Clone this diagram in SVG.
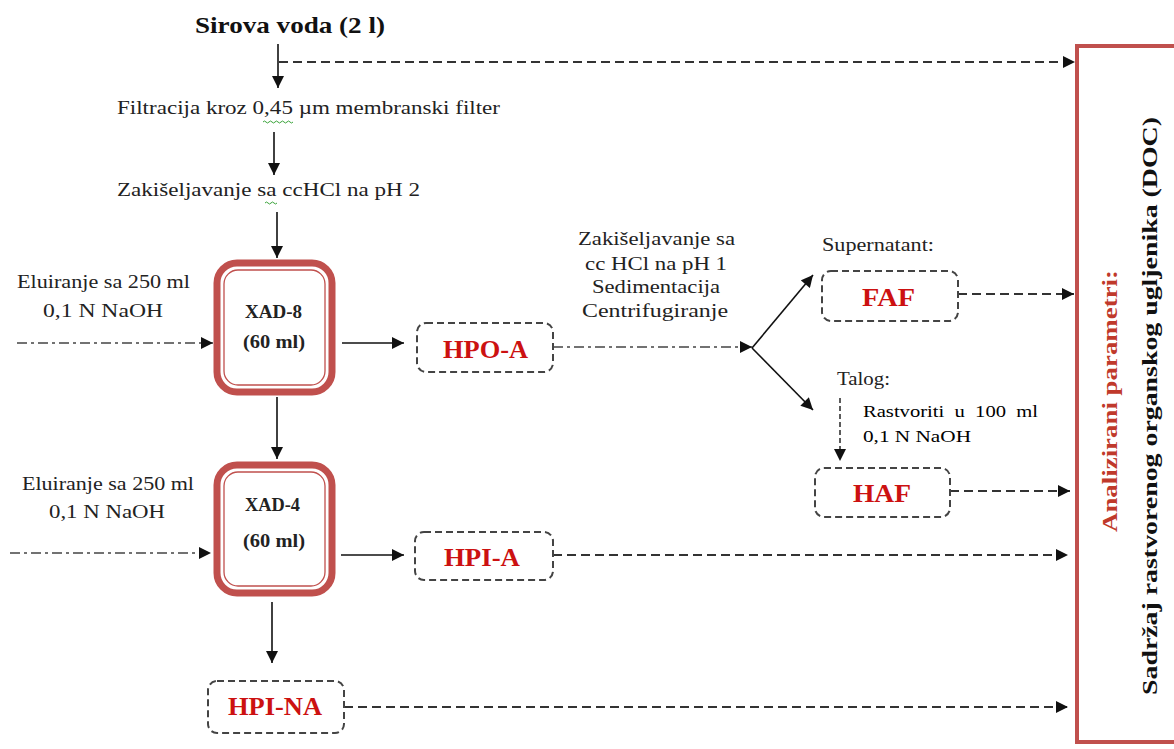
<svg xmlns="http://www.w3.org/2000/svg" width="1174" height="749" viewBox="0 0 1174 749">
  <defs>
    <marker id="arrBig" viewBox="0 0 10 10" refX="10" refY="5" markerWidth="13" markerHeight="12" markerUnits="userSpaceOnUse" orient="auto">
      <path d="M0,0 L10,5 L0,10 Z" fill="#111"/>
    </marker>
  </defs>
  <style>
    text { font-family: "Liberation Serif", "Times New Roman", serif; fill: #222; }
    .reg { font-size: 18px; }
    .title { font-size: 24px; font-weight: bold; fill: #111; }
    .col { font-size: 19px; font-weight: bold; fill: #222; }
    .frac { font-size: 25px; font-weight: bold; fill: #cc1111; }
    .solid { stroke: #111; stroke-width: 1.6; fill: none; }
    .dash { stroke: #333; stroke-width: 1.8; fill: none; stroke-dasharray: 9 5; }
    .dd { stroke: #444; stroke-width: 1.6; fill: none; stroke-dasharray: 10 4 3 4; }
    .sdash { stroke: #333; stroke-width: 1.6; fill: none; stroke-dasharray: 5 3; }
    .box { stroke: #444; stroke-width: 2; fill: #fff; stroke-dasharray: 7 4; }
    .colOuter { stroke: #c0504d; stroke-width: 7; fill: #fff; }
    .colInner { stroke: #c0504d; stroke-width: 1.3; fill: none; }
    .wavy { stroke: #3aa33a; stroke-width: 1; fill: none; }
  </style>

  <g id="connectors">
    <!-- main vertical flow -->
    <line class="solid" x1="278" y1="44" x2="278" y2="88" marker-end="url(#arrBig)"/>
    <line class="dash" x1="279" y1="62" x2="1075" y2="62" marker-end="url(#arrBig)"/>
    <line class="solid" x1="274" y1="132" x2="274" y2="175" marker-end="url(#arrBig)"/>
    <line class="solid" x1="277" y1="212" x2="277" y2="258" marker-end="url(#arrBig)"/>
    <line class="solid" x1="277" y1="397" x2="277" y2="459" marker-end="url(#arrBig)"/>
    <line class="solid" x1="272" y1="602" x2="272" y2="663" marker-end="url(#arrBig)"/>
    <!-- elution inputs -->
    <line class="dd" x1="17" y1="343" x2="213" y2="343" marker-end="url(#arrBig)"/>
    <line class="dd" x1="10" y1="553" x2="211" y2="553" marker-end="url(#arrBig)"/>
    <!-- column outputs -->
    <line class="solid" x1="342" y1="343" x2="404" y2="343" marker-end="url(#arrBig)"/>
    <line class="solid" x1="341" y1="555" x2="404" y2="555" marker-end="url(#arrBig)"/>
    <!-- HPO-A treatment and split -->
    <line class="dd" x1="553" y1="347" x2="752" y2="347" marker-end="url(#arrBig)"/>
    <line class="solid" x1="752" y1="348" x2="813" y2="275" marker-end="url(#arrBig)"/>
    <line class="solid" x1="752" y1="348" x2="813" y2="410" marker-end="url(#arrBig)"/>
    <line class="sdash" x1="840" y1="398" x2="840" y2="461" marker-end="url(#arrBig)"/>
    <!-- fractions to analysis -->
    <line class="dash" x1="958" y1="294" x2="1074" y2="294" marker-end="url(#arrBig)"/>
    <line class="dash" x1="950" y1="491" x2="1070" y2="491" marker-end="url(#arrBig)"/>
    <line class="dash" x1="553" y1="555" x2="1068" y2="555" marker-end="url(#arrBig)"/>
    <line class="dash" x1="344" y1="707" x2="1068" y2="707" marker-end="url(#arrBig)"/>
  </g>

  <g id="source">
    <text class="title" x="195" y="33" textLength="190" lengthAdjust="spacingAndGlyphs">Sirova voda (2 l)</text>
  </g>

  <g id="filtration">
    <text class="reg" x="117" y="114" textLength="383" lengthAdjust="spacingAndGlyphs">Filtracija kroz 0,45 µm membranski filter</text>
    <path class="wavy" d="M263,122 q1.5,-2 3,0 t3,0 t3,0 t3,0 t3,0 t3,0 t3,0 t3,0 t3,0 t3,0"/>
  </g>

  <g id="acidification">
    <text class="reg" x="117" y="196" textLength="303" lengthAdjust="spacingAndGlyphs">Zakišeljavanje sa ccHCl na pH 2</text>
    <path class="wavy" d="M265,203 q1.5,-2 3,0 t3,0 t3,0 t3,0"/>
  </g>

  <g id="elution1">
    <text class="reg" x="17" y="288" textLength="173" lengthAdjust="spacingAndGlyphs">Eluiranje sa 250 ml</text>
    <text class="reg" x="43" y="317" textLength="120" lengthAdjust="spacingAndGlyphs">0,1 N NaOH</text>
  </g>

  <g id="xad8">
    <rect class="colOuter" x="217" y="263" width="115" height="129" rx="20"/>
    <rect class="colInner" x="224" y="270" width="101" height="115" rx="14"/>
    <text class="col" x="245" y="318" textLength="57" lengthAdjust="spacingAndGlyphs">XAD-8</text>
    <text class="col" x="243" y="348" textLength="62" lengthAdjust="spacingAndGlyphs">(60 ml)</text>
  </g>

  <g id="hpoa">
    <rect class="box" x="417" y="323" width="136" height="49" rx="9"/>
    <text class="frac" x="443" y="358" textLength="85" lengthAdjust="spacingAndGlyphs">HPO-A</text>
  </g>

  <g id="treatment">
    <text class="reg" x="578" y="245" textLength="157" lengthAdjust="spacingAndGlyphs" style="font-size:19px">Zakišeljavanje sa</text>
    <text class="reg" x="585" y="270" textLength="142" lengthAdjust="spacingAndGlyphs" style="font-size:19px">cc HCl na pH 1</text>
    <text class="reg" x="592" y="293" textLength="128" lengthAdjust="spacingAndGlyphs" style="font-size:19px">Sedimentacija</text>
    <text class="reg" x="582" y="317" textLength="146" lengthAdjust="spacingAndGlyphs" style="font-size:19px">Centrifugiranje</text>
  </g>

  <g id="faf">
    <text class="reg" x="822" y="251" textLength="112" lengthAdjust="spacingAndGlyphs">Supernatant:</text>
    <rect class="box" x="822" y="271" width="136" height="50" rx="9"/>
    <text class="frac" x="862" y="306" textLength="53" lengthAdjust="spacingAndGlyphs">FAF</text>
  </g>

  <g id="haf">
    <text class="reg" x="837" y="385" textLength="53" lengthAdjust="spacingAndGlyphs">Talog:</text>
    <text x="863" y="417" textLength="175" lengthAdjust="spacingAndGlyphs" style="font-size:16px;fill:#000" word-spacing="4">Rastvoriti u 100 ml</text>
    <text x="863" y="442" textLength="108" lengthAdjust="spacingAndGlyphs" style="font-size:16px;fill:#000">0,1 N NaOH</text>
    <rect class="box" x="815" y="468" width="135" height="49" rx="9"/>
    <text class="frac" x="853" y="502" textLength="58" lengthAdjust="spacingAndGlyphs">HAF</text>
  </g>

  <g id="elution2">
    <text class="reg" x="22" y="490" textLength="172" lengthAdjust="spacingAndGlyphs">Eluiranje sa 250 ml</text>
    <text class="reg" x="49" y="518" textLength="116" lengthAdjust="spacingAndGlyphs">0,1 N NaOH</text>
  </g>

  <g id="xad4">
    <rect class="colOuter" x="217" y="465" width="115" height="128" rx="20"/>
    <rect class="colInner" x="224" y="472" width="101" height="114" rx="14"/>
    <text class="col" x="245" y="511" textLength="55" lengthAdjust="spacingAndGlyphs">XAD-4</text>
    <text class="col" x="243" y="547" textLength="62" lengthAdjust="spacingAndGlyphs">(60 ml)</text>
  </g>

  <g id="hpia">
    <rect class="box" x="415" y="532" width="138" height="48" rx="9"/>
    <text class="frac" x="444" y="566" textLength="76" lengthAdjust="spacingAndGlyphs">HPI-A</text>
  </g>

  <g id="hpina">
    <rect class="box" x="208" y="681" width="136" height="52" rx="9"/>
    <text class="frac" x="228" y="715" textLength="94" lengthAdjust="spacingAndGlyphs">HPI-NA</text>
  </g>

  <g id="analysis">
    <rect x="1077" y="46" width="110" height="696" fill="#fff" stroke="#c0504d" stroke-width="4"/>
    <text transform="translate(1117,532) rotate(-90)" textLength="262" lengthAdjust="spacingAndGlyphs" style="font-size:22px;font-weight:bold;fill:#c0392b">Analizirani parametri:</text>
    <text transform="translate(1157,695) rotate(-90)" textLength="578" lengthAdjust="spacingAndGlyphs" style="font-size:22px;font-weight:bold;fill:#111">Sadržaj rastvorenog organskog ugljenika (DOC)</text>
  </g>
</svg>
